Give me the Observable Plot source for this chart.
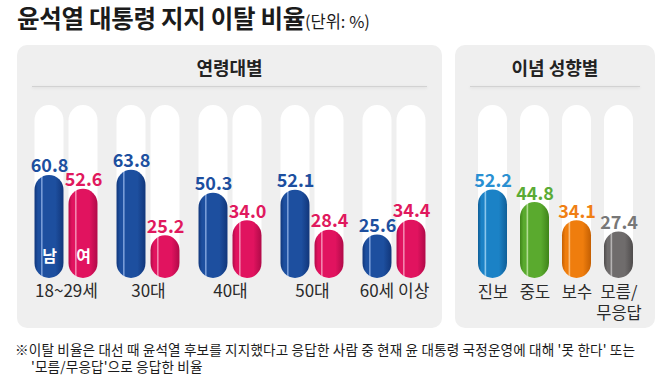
<!DOCTYPE html>
<html><head><meta charset="utf-8">
<script src="https://cdn.jsdelivr.net/npm/d3@7"></script>
<script src="https://cdn.jsdelivr.net/npm/@observablehq/plot@0.6"></script>
<style>
body{margin:0;width:672px;height:384px;background:#fff;font-family:"Noto Sans CJK KR","Noto Sans",sans-serif;position:relative;overflow:hidden;color:#1b1b1b}
#title{position:absolute;left:17px;top:6px;line-height:1;white-space:nowrap}
#title .main{font-size:24.5px;font-weight:700;letter-spacing:-0.3px}
#title .unit{font-size:16.5px;font-weight:400}
.panel{position:absolute;top:45px;height:283px;background:#efefef;border-radius:10px}
.panel .hd{position:absolute;top:13px;left:0;width:100%;text-align:center;font-size:18px;font-weight:700;line-height:1;color:#222}
.panel .div{position:absolute;left:15px;right:15px;top:41px;height:1px;background:#d2d2d2;box-shadow:0 1px 3px rgba(0,0,0,0.12)}
.panel .pw{position:absolute;left:0;top:50px}
#note{position:absolute;left:15px;top:341px;font-size:13.6px;line-height:17px;color:#1b1b1b;letter-spacing:0.15px;white-space:nowrap}
#note .l2{padding-left:16px}
</style></head>
<body>
<svg width="0" height="0" style="position:absolute">
  <defs id="grads"></defs>
</svg>
<div id="title"><span class="main">윤석열 대통령 지지 이탈 비율</span><span class="unit">(단위: %)</span></div>
<div class="panel" id="p1" style="left:17px;width:425px"><div class="hd">연령대별</div><div class="div"></div><div class="pw" id="w1"></div></div>
<div class="panel" id="p2" style="left:455px;width:200px"><div class="hd">이념 성향별</div><div class="div"></div><div class="pw" id="w2"></div></div>
<div id="note">※이탈 비율은 대선 때 윤석열 후보를 지지했다고 응답한 사람 중 현재 윤 대통령 국정운영에 대해 '못 한다' 또는<br><span class="l2">'모름/무응답'으로 응답한 비율</span></div>
<script>
// ---- data ----
const ageGroups = ["18~29세", "30대", "40대", "50대", "60세 이상"];
const sexes = ["남", "여"];
const maleValues = [60.8, 63.8, 50.3, 52.1, 25.6];
const femaleValues = [52.6, 25.2, 34.0, 28.4, 34.4];
const ideologies = ["진보", "중도", "보수", "모름/\n무응답"];
const ideologyValues = [52.2, 44.8, 34.1, 27.4];
const trackTop = 102;

// ---- styles ----
const palette = {
  "남":   {main: "#1d4f9f", dark: "#11367a", light: "#8fb0e6", label: "#1d4f9f"},
  "여":   {main: "#e1135f", dark: "#b00a48", light: "#f7a3c2", label: "#e0195e"},
  "진보": {main: "#1b82c6", dark: "#0f5e97", light: "#9fd3f3", label: "#2a90d2"},
  "중도": {main: "#5aaa2e", dark: "#3f8419", light: "#c1e6a6", label: "#5aab36"},
  "보수": {main: "#ef7d0d", dark: "#c45f02", light: "#fcc990", label: "#f07f14"},
  "모름/\n무응답": {main: "#6f6c6c", dark: "#4f4c4c", light: "#c4c2c2", label: "#777"}
};
const gid = {};
const defs = d3.select("#grads");
Object.entries(palette).forEach(([k, c], i) => {
  const id = "g" + i; gid[k] = `url(#${id})`;
  const g = defs.append("linearGradient").attr("id", id).attr("x1", 0).attr("x2", 1).attr("y1", 0).attr("y2", 0);
  [[0, c.dark], [0.12, c.main], [0.21, c.main], [0.25, c.light], [0.3, c.main], [0.72, c.main], [1, c.dark]]
    .forEach(([o, col]) => g.append("stop").attr("offset", o).attr("stop-color", col));
});

const ageData = ageGroups.flatMap((g, i) => [
  {group: g, sex: sexes[0], value: maleValues[i]},
  {group: g, sex: sexes[1], value: femaleValues[i]}
]);
const ideoData = ideologies.map((k, i) => ({key: k, value: ideologyValues[i]}));

const common = {
  height: 218, marginTop: 10, marginBottom: 35,
  y: {domain: [0, trackTop], axis: null},
  color: {type: "identity"},
  style: {background: "transparent", overflow: "visible", color: "#2a2a2a", fontFamily: '"Noto Sans CJK KR","Noto Sans",sans-serif'}
};

const left = Plot.plot({
  ...common,
  width: 425, marginLeft: 7.5, marginRight: 7,
  fx: {domain: ageGroups, padding: 0, label: null},
  x: {domain: sexes, paddingInner: 0.143, paddingOuter: 0.243, axis: null},
  marks: [
    Plot.barY(ageData, {fx: "group", x: "sex", y1: 0, y2: trackTop, fill: "white", rx: 15}),
    Plot.barY(ageData, {fx: "group", x: "sex", y1: 0, y2: "value", fill: d => gid[d.sex], rx: 15}),
    Plot.text(ageData, {fx: "group", x: "sex", y: "value", text: d => d.value.toFixed(1), fill: d => palette[d.sex].label,
      lineAnchor: "bottom", dy: -3, fontSize: 18, fontWeight: 700}),
    Plot.text(ageData.filter(d => d.group === ageGroups[0]), {fx: "group", x: "sex", y: 0, text: "sex", fill: "white",
      dy: -22, fontSize: 16, fontWeight: 700}),
    Plot.axisFx({anchor: "bottom", tickSize: 0, tickPadding: 6, fontSize: 17, label: null})
  ]
});
document.getElementById("w1").appendChild(left);

const right = Plot.plot({
  ...common,
  width: 200, marginLeft: 21.5, marginRight: 19.5,
  x: {domain: ideologies, paddingInner: 0.3, paddingOuter: 0},
  marks: [
    Plot.barY(ideoData, {x: "key", y1: 0, y2: trackTop, fill: "white", rx: 15}),
    Plot.barY(ideoData, {x: "key", y1: 0, y2: "value", fill: d => gid[d.key], rx: 15}),
    Plot.text(ideoData, {x: "key", y: "value", text: d => d.value.toFixed(1), fill: d => palette[d.key].label,
      lineAnchor: "bottom", dy: -3, fontSize: 18, fontWeight: 700}),
    Plot.axisX({anchor: "bottom", tickSize: 0, tickPadding: 4, fontSize: 16.5, lineHeight: 1.3, label: null})
  ]
});
document.getElementById("w2").appendChild(right);
</script>
</body></html>
